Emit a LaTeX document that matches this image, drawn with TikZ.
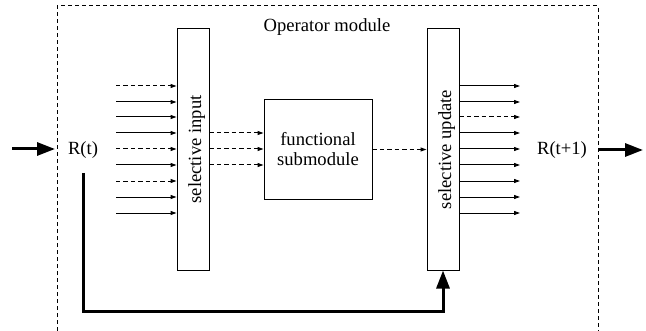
\documentclass[tikz,border=0pt]{standalone}
\usepackage{fontspec}
\setmainfont{Liberation Serif}
\usetikzlibrary{arrows.meta}

\tikzset{
  block/.style={draw, line width=0.5pt, inner sep=0pt},
  signal/.style={line width=0.5pt, -{Triangle[length=3pt,width=2pt]}},
  dsignal/.style={signal, dash pattern=on 2.2pt off 1.5pt},
  bigarrow/.style={line width=1.5pt, -{Triangle[length=9pt,width=6.5pt]}},
}

\begin{document}
\begin{tikzpicture}[x=0.5pt, y=-0.5pt, font=\fontsize{9.3}{10}\selectfont]
  \useasboundingbox (0,0) rectangle (646,331);

  % Frame of the operator module (open at the bottom)
  \draw[line width=0.5pt, dash pattern=on 2pt off 1.5pt] (57,331) -- (57,6) -- (598,6) -- (598,331);
  \node (title) at (327,27) {Operator module};

  % Boxes
  \node[block, minimum width=16pt, minimum height=120.5pt] (selin) at (193,149.5) {};
  \node[rotate=90] at ([xshift=1.8pt]selin.center) {selective input};
  \node[block, minimum width=54pt, minimum height=49.5pt, align=center] (func) at (318,149.5) {functional\\submodule};
  \node[block, minimum width=16pt, minimum height=120.5pt] (selup) at (443,149.5) {};
  \node[rotate=90] at ([xshift=1.8pt]selup.center) {selective update};

  % Labels of the state
  \node (rt) at (83,150) {R(t)};
  \node (rt1) at (562,150) {R(t+1)};

  % Inputs to the selective input
  \foreach \y/\s in {86/dsignal, 102/signal, 117/signal, 133/signal, 149/dsignal,
                     165/signal, 181/dsignal, 197/signal, 213/signal} {
    \coordinate (in) at (116,\y);
    \draw[\s] (in) -- (in -| selin.west);
  }

  % Selected inputs to the functional submodule
  \foreach \y in {133,149,165} {
    \coordinate (mid) at (0,\y);
    \draw[dsignal] (selin.east |- mid) -- (func.west |- mid);
  }
  \draw[dsignal] (func.east) -- (func.east -| selup.west);

  % Outputs of the selective update
  \foreach \y/\s in {86/signal, 102/signal, 117/dsignal, 133/signal, 149/signal,
                     165/signal, 181/signal, 197/signal, 213/signal} {
    \coordinate (out) at (520,\y);
    \draw[\s] (out -| selup.east) -- (out);
  }

  % Flow in and out
  \coordinate (inflow) at (12,149);
  \coordinate (inend) at (55,149);
  \draw[bigarrow] (inflow) -- (inend);
  \coordinate (outflow) at (599,150);
  \coordinate (outend) at (643,150);
  \draw[bigarrow] (outflow) -- (outend);

  % Feedback of R(t) into the selective update
  \coordinate (fbstart) at (83,173);
  \coordinate (fb) at (443,311);
  \draw[bigarrow] (fbstart) |- (fb) -- (selup.south);
\end{tikzpicture}
\end{document}
